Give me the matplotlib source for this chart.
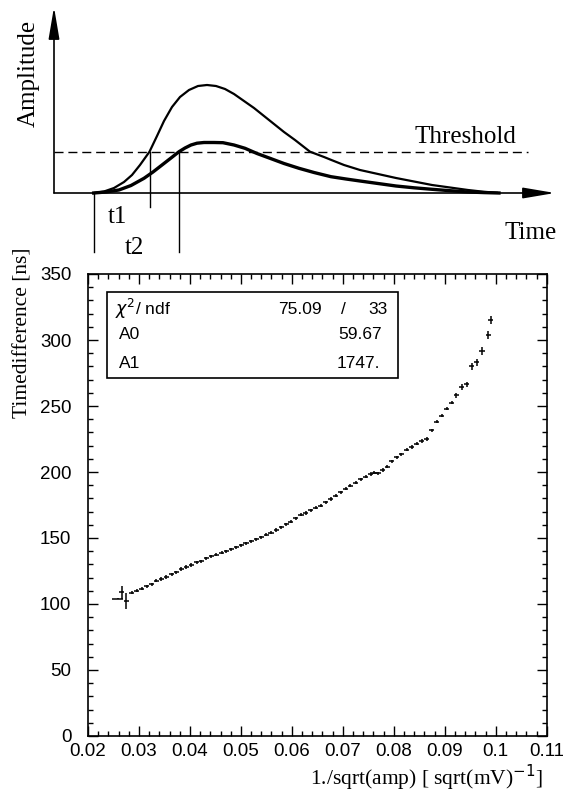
import matplotlib
matplotlib.use("Agg")
import matplotlib.pyplot as plt
from matplotlib.patches import Rectangle
from matplotlib.ticker import MultipleLocator

# ---- top sketch: two pulses and a threshold (arbitrary units)
big_t = [39.7, 50, 60, 70, 78, 86, 95.5, 103, 110, 118, 126, 135, 144, 153, 162, 171,
         180, 190, 200, 210, 220, 230, 241, 256, 270, 277.4, 290, 306, 324, 342, 360,
         378, 396, 414, 430, 443]
big_a = [0, 1.5, 5, 11, 18, 28, 41.3, 57, 72, 86, 96, 103, 107, 108, 107, 104,
         99, 92, 85, 77, 69, 61, 53, 41.3, 36, 33, 28, 23, 19, 15, 11.5,
         8, 5.5, 3, 1.2, 0.3]
small_t = [39.7, 52, 64.9, 77, 90, 99, 108, 117, 125, 131, 137, 143, 150, 160, 169,
           180, 191, 203, 216, 230, 245, 260, 277, 292, 306, 324, 342, 360, 378, 396,
           414, 430, 445]
small_a = [0, 1, 3, 7.5, 14.7, 21, 28, 35, 41.3, 45, 48, 49.8, 50.5, 50.5, 50.3,
           48, 44.7, 39.5, 34.7, 29.5, 24.7, 20.5, 16.3, 14, 12, 9.5, 7, 5.2, 3.7, 2.3,
           1, 0.4, 0]
threshold = 41.3
t_start, t_cross1, t_cross2 = 39.7, 95.5, 125

# ---- bottom: time difference vs 1/sqrt(amp)
inv_sqrt_amp = [0.0258, 0.0266, 0.0275, 0.0286, 0.0296, 0.0305, 0.0315, 0.0325, 0.0334,
                0.0344, 0.0354, 0.0364, 0.0373, 0.0383, 0.0393, 0.0403, 0.0413, 0.0422,
                0.0432, 0.0442, 0.0452, 0.0462, 0.0471, 0.0481, 0.0491, 0.0501, 0.0510,
                0.0520, 0.0530, 0.0540, 0.0550, 0.0559, 0.0569, 0.0579, 0.0589, 0.0598,
                0.0608, 0.0618, 0.0627, 0.0637, 0.0647, 0.0657, 0.0666, 0.0676, 0.0686,
                0.0696, 0.0706, 0.0715, 0.0725, 0.0735, 0.0745, 0.0755, 0.0762, 0.0769,
                0.0778, 0.0787, 0.0796, 0.0806, 0.0815, 0.0825, 0.0835, 0.0845, 0.0855,
                0.0865, 0.0874, 0.0884, 0.0894, 0.0904, 0.0914, 0.0923, 0.0933, 0.0943,
                0.0953, 0.0963, 0.0973, 0.0985, 0.0990]
time_diff = [104, 109, 102, 108.5, 110, 111.5, 113.5, 115, 117.5,
             119, 120.5, 122.5, 124, 126.5, 128, 129.5, 131.5, 132.5,
             134.5, 136, 137.5, 139, 140, 141.5, 143, 144.5, 146,
             147.5, 149, 150.5, 152.5, 154, 156, 158, 160.5, 162.5,
             165, 167.5, 169, 171, 173, 174.5, 177, 179.5, 182,
             184.5, 187.5, 189.5, 192, 194.5, 196.5, 198.5, 199.5, 199,
             201.5, 204, 208, 211, 213.5, 217, 219, 221.5, 223.5,
             225, 231.5, 238, 242.5, 248, 252.5, 258, 264.5, 266.5,
             280, 283, 292, 304, 315]
x_err = [0.001] + [0.0005] * 76
y_err = [0.3, 5, 6] + [1.2] * 66 + [2, 2, 2, 2.5, 2.5, 3, 3, 3]

fit_rows = [("$\\chi^{2}$/ ndf", "75.09"), ("A0", "59.67"), ("A1", "1747.")]
ndf = "33"

serif = "Liberation Serif"
sans = "Liberation Sans"

fig = plt.figure(figsize=(5.63, 7.94), dpi=100)
W, H = 563.0, 794.0

# ---------------- sketch
ax0 = fig.add_axes([0, 1 - 265 / H, 1, 265 / H])
ax0.set_xlim(-54, 509)
ax0.set_ylim(-72, 193)
ax0.axis("off")

ax0.plot(big_t, big_a, color="black", lw=1.6)
ax0.plot(small_t, small_a, color="black", lw=2.4)
ax0.plot([0, 474], [threshold, threshold], color="black", lw=1, dashes=(6.5, 3.5))
ax0.plot([t_start, t_start], [0, -59], color="black", lw=1)
ax0.plot([t_cross1, t_cross1], [threshold, -14], color="black", lw=1)
ax0.plot([t_cross2, t_cross2], [threshold, -59], color="black", lw=1)

arrow = dict(arrowstyle="-|>,head_length=1.3,head_width=0.22", color="black",
             lw=1.2, mutation_scale=15, shrinkA=0, shrinkB=0)
ax0.annotate("", xy=(0, 186), xytext=(0, 0), arrowprops=arrow)
ax0.annotate("", xy=(501, 0), xytext=(0, 0), arrowprops=arrow)

ax0.text(-25, 120, "Amplitude", rotation=90, ha="center", va="center",
         family=serif, fontsize=18)
ax0.text(411, 56, "Threshold", ha="center", va="center", family=serif, fontsize=18)
ax0.text(63, -24, "t1", ha="center", va="center", family=serif, fontsize=18)
ax0.text(80, -55, "t2", ha="center", va="center", family=serif, fontsize=18)
ax0.text(477, -40, "Time", ha="center", va="center", family=serif, fontsize=18)

# ---------------- measurement
left, right, top, bottom = 88, 546.7, 274, 736
ax = fig.add_axes([left / W, 1 - bottom / H, (right - left) / W, (bottom - top) / H])
ax.errorbar(inv_sqrt_amp, time_diff, xerr=x_err, yerr=y_err, fmt="none",
            ecolor="black", elinewidth=1.1, capsize=0)
ax.set_xlim(0.02, 0.11)
ax.set_ylim(0, 350)
ax.xaxis.set_major_locator(MultipleLocator(0.01))
ax.xaxis.set_minor_locator(MultipleLocator(0.002))
ax.yaxis.set_major_locator(MultipleLocator(50))
ax.yaxis.set_minor_locator(MultipleLocator(10))
ax.set_xticklabels([f"{v:g}" for v in ax.get_xticks()])
ax.tick_params(which="both", direction="in", top=True, right=True, width=1.0)
ax.tick_params(which="major", length=7)
ax.tick_params(which="minor", length=3.5)
ax.tick_params(axis="x", pad=5, labelsize=13.5)
ax.tick_params(axis="y", pad=12, labelsize=13.5)
for lab in ax.get_xticklabels() + ax.get_yticklabels():
    lab.set_family(sans)
for sp in ax.spines.values():
    sp.set_linewidth(1.2)

# fit statistics box
ax.add_patch(Rectangle((0.0414, 0.775), 0.6346, 0.186, transform=ax.transAxes,
                       facecolor="white", edgecolor="black", lw=1.2, zorder=3))
row_y = [0.924, 0.869, 0.807]
for (name, val), y, xl, xr in zip(fit_rows, row_y, [0.059, 0.068, 0.068],
                                  [0.510, 0.641, 0.637]):
    ax.text(xl, y, name, transform=ax.transAxes, ha="left", va="center",
            family=sans, fontsize=12.5, zorder=4)
    ax.text(xr, y, val, transform=ax.transAxes, ha="right", va="center",
            family=sans, fontsize=12.5, zorder=4)
ax.text(0.556, row_y[0], "/", transform=ax.transAxes, ha="center", va="center",
        family=sans, fontsize=12.5, zorder=4)
ax.text(0.654, row_y[0], ndf, transform=ax.transAxes, ha="right", va="center",
        family=sans, fontsize=12.5, zorder=4)

fig.text(543 / W, 1 - 778 / H, "1./sqrt(amp) [ sqrt(mV)$^{-1}$]", ha="right",
         va="center", family=serif, fontsize=15.5)
fig.text(23 / W, 1 - 333 / H, "Timedifference [ns]", rotation=90, ha="center",
         va="center", family=serif, fontsize=15.5)

fig.savefig("out.png", dpi=100)
